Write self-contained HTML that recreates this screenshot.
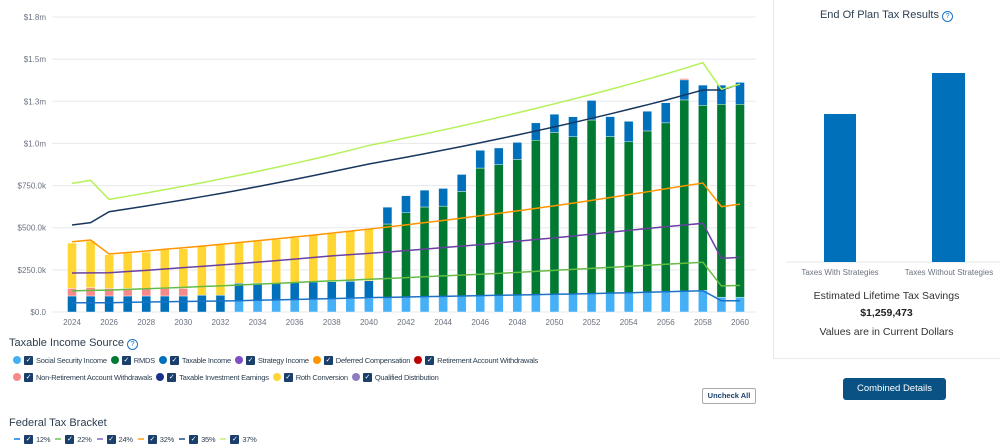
<!DOCTYPE html>
<html><head><meta charset="utf-8"><style>
body{margin:0;width:1000px;height:448px;overflow:hidden;background:#fff;font-family:"Liberation Sans",sans-serif;position:relative}
.abs{position:absolute}
.row{position:absolute;display:flex;align-items:center;white-space:nowrap;font-size:7.5px;letter-spacing:-0.25px;color:#2c3e50;height:10px}
.leg{display:flex;align-items:center;margin-right:4px}
.dot{width:8px;height:8px;border-radius:50%;display:inline-block;margin-right:3px;flex:none}
.cb{width:9px;height:9px;background:#1b3f6b;border-radius:1px;display:inline-block;margin-right:3px;color:#fff;font-size:7px;line-height:9px;text-align:center;flex:none}
.dash{width:6px;height:2px;display:inline-block;margin-right:4px;flex:none}
</style></head><body>
<svg id="chart" class="abs" style="left:0;top:0" width="770" height="335"></svg>
<div class="abs" style="left:773px;top:0;width:227px;height:358px;border-left:1px solid #e8eaee;border-bottom:1px solid #e8eaee"></div>
<div class="abs" style="left:773px;top:9px;width:227px;text-align:center;font-size:11px;color:#2c3e50">End Of Plan Tax Results <span style="display:inline-block;width:9px;height:9px;border:1px solid #1a73c8;border-radius:50%;font-size:7px;line-height:9px;color:#1a73c8">?</span></div>
<svg class="abs" style="left:773px;top:0" width="227" height="290">
<line x1="13" y1="262" x2="227" y2="262" stroke="#e5e7eb"/>
<rect x="51" y="114" width="32" height="148" fill="#0070bb"/>
<rect x="159" y="73" width="33" height="189" fill="#0070bb"/>
<text x="67" y="275" font-size="8" fill="#6b7280" text-anchor="middle">Taxes With Strategies</text>
<text x="176" y="275" font-size="8" fill="#6b7280" text-anchor="middle">Taxes Without Strategies</text>
</svg>
<div class="abs" style="left:773px;top:290px;width:227px;text-align:center;font-size:10.5px;color:#333">Estimated Lifetime Tax Savings</div>
<div class="abs" style="left:773px;top:307px;width:227px;text-align:center;font-size:10.5px;font-weight:bold;color:#222">$1,259,473</div>
<div class="abs" style="left:773px;top:326px;width:227px;text-align:center;font-size:10.5px;color:#333">Values are in Current Dollars</div>
<div class="abs" style="left:843px;top:378px;width:103px;height:22px;background:#0b5284;border-radius:3px;color:#fff;font-size:9.5px;line-height:22px;text-align:center">Combined Details</div>
<div class="abs" style="left:702px;top:388px;width:52px;height:14px;border:1px solid #aaa;border-radius:2px;color:#1b3f6b;font-size:7.5px;font-weight:bold;line-height:14px;text-align:center">Uncheck All</div>
<div class="abs" style="left:9px;top:337px;font-size:11px;color:#2c3e50">Taxable Income Source <span style="display:inline-block;width:9px;height:9px;border:1px solid #1a73c8;border-radius:50%;font-size:7px;line-height:9px;color:#1a73c8;text-align:center">?</span></div>
<div class="abs" style="left:9px;top:417px;font-size:11px;color:#2c3e50">Federal Tax Bracket</div>
<div class="row" id="row1" style="left:13px;top:355px"></div>
<div class="row" id="row2" style="left:13px;top:372px"></div>
<div class="row" id="row3" style="left:14px;top:434px"></div>
<script>
const years=[];for(let y=2024;y<=2060;y++)years.push(y);
const yTicks=[0,250,500,750,1000,1250,1500,1750];
const yTickLabels=["$0.0","$250.0k","$500.0k","$750.0k","$1.0m","$1.3m","$1.5m","$1.8m"];
const ss=[0,0,0,0,0,0,0,0,0,70,72,73,75,76,78,80,82,85,88,90,92,94,96,98,100,103,105,108,110,113,116,119,122,125,128,88,88];
const rmds=[0,0,0,0,0,0,0,0,0,0,0,0,0,0,0,0,0,437,501,533,536,621,758,776,805,916,960,932,1029,928,894,955,1000,1133,1098,1144,1144];
const taxableIncome=[95,95,95,95,95,95,95,100,100,100,100,99,100,102,102,102,103,100,101,100,105,101,105,99,101,103,108,118,116,118,121,117,119,119,120,114,130];
const nonRetirement=[45,50,45,45,45,45,45,0,0,0,0,0,0,0,0,0,0,0,0,0,0,0,0,0,0,0,0,0,0,0,0,0,0,8,0,0,0];
const rothConversion=[269,275,200,210,215,230,235,290,300,240,248,258,265,277,285,300,310,0,0,0,0,0,0,0,0,0,0,0,0,0,0,0,0,0,0,0,0];
const b12=[55,55,55,57,59,61,62,64,65,67,70,72,74,77,79,82,85,87,89,91,93,95,97,99,101,103,105,107,109,112,114,117,120,123,126,67,67];
const b22=[125,128,130,134,138,142,146,151,155,160,165,170,175,180,185,189,194,199,204,209,214,219,224,229,235,241,247,253,259,265,271,277,283,289,295,154,158];
const b24=[231,232,233,240,247,255,263,271,279,287,296,305,314,323,333,340,348,356,364,373,382,391,400,410,420,430,440,451,462,473,484,495,506,516,526,318,324];
const b32=[417,427,344,353,362,372,381,391,401,412,423,434,445,456,468,480,492,504,517,530,543,557,571,585,600,615,630,646,662,679,696,713,731,748,765,625,640];
const b35=[516,530,595,612,629,647,665,684,703,723,744,765,787,809,832,855,878,898,918,939,960,982,1004,1027,1050,1074,1098,1123,1149,1175,1202,1229,1257,1287,1317,1317,1352];
const b37=[763,781,668,687,706,726,746,767,789,811,834,858,882,907,933,960,988,1010,1033,1056,1080,1104,1129,1155,1181,1208,1235,1263,1291,1320,1350,1381,1412,1445,1479,1321,1352];
const X=i=>72+i*(668/36);
const Y=v=>312-v*295/1750;
const NS="http://www.w3.org/2000/svg";
const svg=document.getElementById('chart');
function mk(t,a){const e=document.createElementNS(NS,t);for(const k in a)e.setAttribute(k,a[k]);svg.appendChild(e);return e;}
yTicks.forEach((t,i)=>{
 const g=mk('line',{x1:52,x2:756,y1:Y(t),y2:Y(t),stroke:'#e6e8ec','stroke-width':1});
 
 
 const tx=mk('text',{x:46,y:Y(t)+3,'font-size':8,fill:'#6b7280','text-anchor':'end'});tx.textContent=yTickLabels[i];
 
 
});
years.forEach((yr,i)=>{if(i%2==0){const tx=mk('text',{x:X(i),y:325,'font-size':8,fill:'#6b7280','text-anchor':'middle'});tx.textContent=yr;
 
 }});
const series=[[ss,'#45b0f5'],[rmds,'#007a33'],[taxableIncome,'#0070bb'],[nonRetirement,'#f68a8a'],[rothConversion,'#ffd633']];
years.forEach((yr,i)=>{let acc=0;series.forEach(([arr,c])=>{const v=arr[i]||0;if(v>0){const r=mk('rect',{x:X(i)-4.5,y:Y(acc+v),width:9,height:Y(acc)-Y(acc+v),fill:c,stroke:'#fff','stroke-width':0.4});
 
 }acc+=v;});});
const lines=[[b12,'#1a73c8'],[b22,'#66bb44'],[b24,'#6a3fa0'],[b32,'#ff9500'],[b35,'#17375e'],[b37,'#b5f25a']];
lines.forEach(([arr,c],k)=>{const p=mk('polyline',{points:arr.map((v,i)=>X(i)+','+Y(v)).join(' '),fill:'none',stroke:c,'stroke-width':1.5});
 
 });
const leg1=[["Social Security Income","#45b0f5"],["RMDS","#007a33"],["Taxable Income","#0070bb"],["Strategy Income","#7e4fc4"],["Deferred Compensation","#ff9500"],["Retirement Account Withdrawals","#c00000"],["Non-Retirement Account Withdrawals","#f68a8a"],["Taxable Investment Earnings","#1b2f8a"],["Roth Conversion","#ffd633"],["Qualified Distribution","#8e7cc3"]];
leg1.forEach((l,i)=>{const d=document.createElement('span');d.className='leg';
 
 
 d.innerHTML='<span class="dot" style="background:'+l[1]+'"></span><span class="cb">✓</span><span>'+l[0]+'</span>';
 document.getElementById(i<6?'row1':'row2').appendChild(d);});
const leg2=[["12%","#45a0f0"],["22%","#8fd47a"],["24%","#a48ad8"],["32%","#ffb84d"],["35%","#5a7aa8"],["37%","#d2f59a"]];
leg2.forEach((l,i)=>{const d=document.createElement('span');d.className='leg';d.style.marginRight='5px';
 
 
 d.innerHTML='<span class="dash" style="background:'+l[1]+'"></span><span class="cb">✓</span>'+l[0];
 document.getElementById('row3').appendChild(d);});
</script>
</body></html>
